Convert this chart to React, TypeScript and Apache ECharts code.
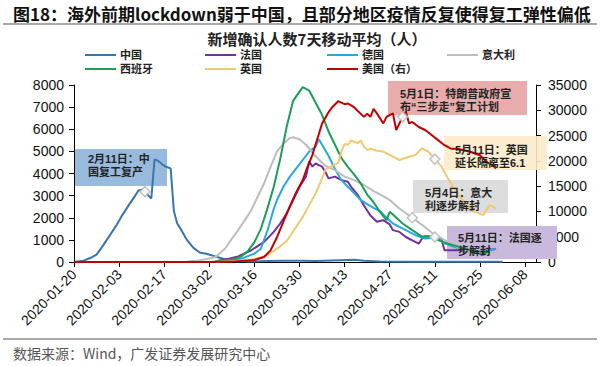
import React, { useEffect, useRef } from "react";
import * as echarts from "echarts";

// ---------- data ----------
const xTickLabels = [
  "2020-01-20", "2020-02-03", "2020-02-17", "2020-03-02", "2020-03-16", "2020-03-30",
  "2020-04-13", "2020-04-27", "2020-05-11", "2020-05-25", "2020-06-08",
];
const leftTicks = [0, 1000, 2000, 3000, 4000, 5000, 6000, 7000, 8000];
const rightTicks = [0, 5000, 10000, 15000, 20000, 25000, 30000, 35000];

const chinaData: [string, number][] = [
  ["2020-01-20", 0], ["2020-01-23", 60], ["2020-01-25", 180], ["2020-01-27", 330], ["2020-01-29", 740],
  ["2020-01-31", 1180], ["2020-02-02", 1620], ["2020-02-04", 2120], ["2020-02-06", 2570], ["2020-02-08", 3000],
  ["2020-02-09", 3230], ["2020-02-10", 3270], ["2020-02-11", 3180], ["2020-02-12", 3020], ["2020-02-13", 2870],
  ["2020-02-14", 4640], ["2020-02-15", 4580], ["2020-02-16", 4460], ["2020-02-17", 4350], ["2020-02-18", 4280],
  ["2020-02-19", 4230], ["2020-02-20", 2300], ["2020-02-21", 1750], ["2020-02-22", 1520], ["2020-02-24", 1010],
  ["2020-02-26", 650], ["2020-02-28", 430], ["2020-03-01", 370], ["2020-03-03", 290], ["2020-03-05", 200],
  ["2020-03-07", 110], ["2020-03-10", 40], ["2020-03-15", 20], ["2020-03-20", 40], ["2020-03-25", 60],
  ["2020-03-30", 60], ["2020-04-04", 50], ["2020-04-09", 70], ["2020-04-16", 100], ["2020-04-19", 60],
  ["2020-04-24", 20], ["2020-05-04", 10], ["2020-05-14", 10], ["2020-05-24", 10], ["2020-06-01", 10],
];
const franceData: [string, number][] = [
  ["2020-03-04", 30], ["2020-03-08", 150], ["2020-03-11", 250], ["2020-03-15", 530], ["2020-03-19", 910],
  ["2020-03-22", 1360], ["2020-03-24", 1740], ["2020-03-26", 2190], ["2020-03-28", 2800], ["2020-03-30", 3400],
  ["2020-04-01", 3860], ["2020-04-02", 4540], ["2020-04-03", 4310], ["2020-04-04", 4460], ["2020-04-05", 4380],
  ["2020-04-06", 4310], ["2020-04-07", 4080], ["2020-04-08", 3780], ["2020-04-10", 3860], ["2020-04-12", 3700],
  ["2020-04-14", 3630], ["2020-04-15", 3400], ["2020-04-17", 3050], ["2020-04-19", 2550], ["2020-04-21", 2100],
  ["2020-04-23", 1820], ["2020-04-25", 1890], ["2020-04-27", 1700], ["2020-04-28", 1440], ["2020-04-30", 1360],
  ["2020-05-02", 1130], ["2020-05-04", 980], ["2020-05-06", 830], ["2020-05-07", 1050], ["2020-05-08", 1160],
  ["2020-05-11", 1130], ["2020-05-13", 1060], ["2020-05-14", 530], ["2020-05-19", 530], ["2020-05-23", 450],
  ["2020-05-27", 500], ["2020-05-30", 600],
];
const germanyData: [string, number][] = [
  ["2020-03-04", 20], ["2020-03-07", 60], ["2020-03-12", 150], ["2020-03-16", 380], ["2020-03-18", 600],
  ["2020-03-19", 1000], ["2020-03-20", 1400], ["2020-03-21", 1900], ["2020-03-22", 2400], ["2020-03-23", 2800],
  ["2020-03-25", 3400], ["2020-03-27", 3860], ["2020-03-29", 4230], ["2020-03-31", 4610], ["2020-04-02", 4990],
  ["2020-04-04", 5220], ["2020-04-05", 5550], ["2020-04-06", 5300], ["2020-04-08", 4800], ["2020-04-10", 4200],
  ["2020-04-12", 3700], ["2020-04-14", 3400], ["2020-04-16", 3100], ["2020-04-18", 2800], ["2020-04-20", 2620],
  ["2020-04-22", 2450], ["2020-04-24", 2300], ["2020-04-26", 2000], ["2020-04-28", 1740], ["2020-04-30", 1590],
  ["2020-05-02", 1440], ["2020-05-05", 1210], ["2020-05-08", 1060], ["2020-05-11", 1100], ["2020-05-14", 850],
  ["2020-05-17", 690], ["2020-05-20", 540], ["2020-05-23", 460], ["2020-05-26", 480], ["2020-05-29", 560],
  ["2020-05-30", 600],
];
const italyData: [string, number][] = [
  ["2020-02-24", 20], ["2020-02-27", 60], ["2020-03-01", 130], ["2020-03-04", 230], ["2020-03-07", 620],
  ["2020-03-09", 1050], ["2020-03-11", 1450], ["2020-03-13", 1880], ["2020-03-15", 2340], ["2020-03-17", 2950],
  ["2020-03-19", 3550], ["2020-03-21", 4300], ["2020-03-23", 5000], ["2020-03-25", 5350], ["2020-03-27", 5600],
  ["2020-03-28", 5640], ["2020-03-30", 5550], ["2020-04-01", 5300], ["2020-04-04", 4780], ["2020-04-07", 4350],
  ["2020-04-10", 4150], ["2020-04-13", 3860], ["2020-04-16", 3700], ["2020-04-19", 3480], ["2020-04-22", 3200],
  ["2020-04-25", 2980], ["2020-04-27", 2800], ["2020-04-30", 2420], ["2020-05-04", 2000], ["2020-05-07", 1680],
  ["2020-05-10", 1330], ["2020-05-13", 1080], ["2020-05-16", 820], ["2020-05-19", 600], ["2020-05-22", 450],
  ["2020-05-25", 390], ["2020-05-28", 380], ["2020-05-31", 430],
];
const spainData: [string, number][] = [
  ["2020-03-04", 30], ["2020-03-07", 80], ["2020-03-10", 140], ["2020-03-12", 260], ["2020-03-14", 500],
  ["2020-03-16", 900], ["2020-03-18", 1500], ["2020-03-20", 2400], ["2020-03-22", 3400], ["2020-03-24", 4650],
  ["2020-03-26", 6100], ["2020-03-28", 7280], ["2020-03-30", 7700], ["2020-03-31", 7900], ["2020-04-02", 7750],
  ["2020-04-04", 7200], ["2020-04-06", 6650], ["2020-04-08", 5900], ["2020-04-10", 5300], ["2020-04-12", 4700],
  ["2020-04-14", 4300], ["2020-04-16", 3950], ["2020-04-18", 3550], ["2020-04-20", 3050], ["2020-04-22", 2700],
  ["2020-04-24", 2250], ["2020-04-26", 1890], ["2020-04-27", 2270], ["2020-04-28", 2150], ["2020-05-01", 1740],
  ["2020-05-04", 1440], ["2020-05-07", 1150], ["2020-05-09", 1160], ["2020-05-12", 990], ["2020-05-15", 830],
  ["2020-05-19", 670], ["2020-05-22", 520], ["2020-05-25", 380], ["2020-05-28", 450],
];
const ukData: [string, number][] = [
  ["2020-03-04", 10], ["2020-03-10", 40], ["2020-03-15", 100], ["2020-03-20", 300], ["2020-03-23", 600],
  ["2020-03-26", 940], ["2020-03-28", 1380], ["2020-03-31", 2040], ["2020-04-02", 2570], ["2020-04-04", 3100],
  ["2020-04-06", 3780], ["2020-04-07", 4160], ["2020-04-09", 4330], ["2020-04-11", 4480], ["2020-04-12", 4990],
  ["2020-04-13", 5340], ["2020-04-14", 5300], ["2020-04-15", 5490], ["2020-04-17", 5370], ["2020-04-18", 5490],
  ["2020-04-19", 5220], ["2020-04-20", 5070], ["2020-04-21", 5120], ["2020-04-23", 5030], ["2020-04-25", 4990],
  ["2020-04-27", 4840], ["2020-04-30", 4610], ["2020-05-03", 4760], ["2020-05-05", 4840], ["2020-05-07", 5140],
  ["2020-05-09", 4990], ["2020-05-11", 4650], ["2020-05-13", 4330], ["2020-05-15", 3800], ["2020-05-17", 3300],
  ["2020-05-19", 2920], ["2020-05-21", 2560], ["2020-05-23", 2300], ["2020-05-26", 2120], ["2020-05-28", 2570],
  ["2020-05-30", 2420],
];
const usData: [string, number][] = [
  ["2020-01-20", 0], ["2020-02-29", 0], ["2020-03-05", 50], ["2020-03-10", 100], ["2020-03-13", 250],
  ["2020-03-16", 400], ["2020-03-18", 800], ["2020-03-19", 1000], ["2020-03-21", 2300], ["2020-03-23", 4900],
  ["2020-03-25", 8000], ["2020-03-27", 11000], ["2020-03-29", 13800], ["2020-03-31", 16200], ["2020-04-01", 18000],
  ["2020-04-03", 21200], ["2020-04-05", 25300], ["2020-04-06", 27400], ["2020-04-08", 29600], ["2020-04-09", 30500],
  ["2020-04-11", 31800], ["2020-04-13", 31200], ["2020-04-14", 31350], ["2020-04-16", 30560], ["2020-04-17", 29900],
  ["2020-04-19", 28700], ["2020-04-20", 29300], ["2020-04-21", 28700], ["2020-04-22", 30300], ["2020-04-23", 29400],
  ["2020-04-24", 28400], ["2020-04-25", 27400], ["2020-04-26", 28700], ["2020-04-28", 29400], ["2020-04-29", 26100],
  ["2020-05-01", 28700], ["2020-05-02", 29700], ["2020-05-03", 27400], ["2020-05-04", 27700], ["2020-05-06", 26700],
  ["2020-05-08", 26100], ["2020-05-10", 25100], ["2020-05-12", 24100], ["2020-05-14", 23100], ["2020-05-16", 22400],
  ["2020-05-18", 22400], ["2020-05-20", 22100], ["2020-05-22", 21800], ["2020-05-25", 21100], ["2020-05-27", 19800],
  ["2020-05-29", 19100], ["2020-05-30", 18500],
];

// event markers: [series name, date]
const markerEvents: [string, string][] = [
  ["中国", "2020-02-11"],
  ["美国（右）", "2020-05-01"],
  ["意大利", "2020-05-04"],
  ["英国", "2020-05-11"],
  ["法国", "2020-05-11"],
];

const notes: string[] = [
  "2月11日：中\n国复工复产",
  "5月1日：特朗普政府宣\n布“三步走”复工计划",
  "5月11日：英国\n延长隔离至6.1",
  "5月4日：意大\n利逐步解封",
  "5月11日：法国逐\n步解封",
];

// ---------- helpers ----------
const START = Date.UTC(2020, 0, 20);
const toDay = (s: string) => {
  const [y, m, d] = s.split("-").map(Number);
  return Math.round((Date.UTC(y, m - 1, d) - START) / 86400000);
};
const conv = (arr: [string, number][]) => arr.map(([d, v]) => [toDay(d), v]);

const SANS = "'Liberation Sans', Arial, sans-serif";
const CJK = "'Noto Sans CJK SC', sans-serif";
const MIX = "'Liberation Sans', 'Noto Sans CJK SC', sans-serif";

const seriesDefs = [
  { name: "中国", data: chinaData, color: "#3A75B0", y: 0 },
  { name: "法国", data: franceData, color: "#7030A0", y: 0 },
  { name: "德国", data: germanyData, color: "#26A9DF", y: 0 },
  { name: "意大利", data: italyData, color: "#BDBDBD", y: 0 },
  { name: "西班牙", data: spainData, color: "#1B9E55", y: 0 },
  { name: "英国", data: ukData, color: "#F0C870", y: 0 },
  { name: "美国（右）", data: usData, color: "#C00000", y: 1 },
];

const legendPos: Record<string, [number, number]> = {
  "中国": [85, 49], "法国": [205, 49], "德国": [327, 49], "意大利": [447, 49],
  "西班牙": [85, 63], "英国": [205, 63], "美国（右）": [327, 63],
};

const noteBoxes = [
  { x: 75, y: 149, w: 92, h: 37, fill: "#8DB4D9", tx: 88, ty: 152 },
  { x: 388, y: 81, w: 139, h: 34, fill: "#E6A3A3", tx: 400, ty: 87 },
  { x: 444, y: 136, w: 103, h: 34, fill: "#FCEBCB", tx: 455, ty: 143 },
  { x: 413, y: 180, w: 95, h: 33, fill: "#D9D9D9", tx: 425, ty: 186 },
  { x: 447, y: 226, w: 110, h: 33, fill: "#C9BADD", tx: 458, ty: 231 },
];

export default function App() {
  const ref = useRef<HTMLDivElement>(null);
  useEffect(() => {
    if (!ref.current) return;
    const chart = echarts.init(ref.current, null, { renderer: "svg" });

    const lineSeries = seriesDefs.map((s) => ({
      name: s.name,
      type: "line",
      yAxisIndex: s.y,
      data: conv(s.data),
      showSymbol: false,
      smooth: false,
      lineStyle: { width: 2, color: s.color },
      itemStyle: { color: s.color },
      z: 3,
    }));

    const markerSeries = markerEvents.map(([name, date]) => {
      const def = seriesDefs.find((s) => s.name === name)!;
      const found = def.data.find(([d]) => d === date)!;
      return {
        type: "scatter",
        yAxisIndex: def.y,
        data: [[toDay(date), found[1]]],
        symbol: "diamond",
        symbolSize: 10,
        itemStyle: { color: "#ffffff", borderColor: "#bbbbbb", borderWidth: 1.5, opacity: 0.9 },
        z: 5,
        silent: true,
      };
    });

    const graphics: any[] = [
      {
        type: "text", x: 13, y: 13, z: 100,
        style: { text: "图18：海外前期lockdown弱于中国，且部分地区疫情反复使得复工弹性偏低", fontFamily: CJK, fontSize: 17, fontWeight: "bold", fill: "#111", verticalAlign: "middle" },
      },
      { type: "line", z: 100, shape: { x1: 3, y1: 24, x2: 597, y2: 24 }, style: { stroke: "#8c8c8c", lineWidth: 1.5 } },
      { type: "line", z: 100, shape: { x1: 3, y1: 339, x2: 597, y2: 339 }, style: { stroke: "#8c8c8c", lineWidth: 1.5 } },
      {
        type: "text", x: 13, y: 353, z: 100,
        style: { text: "数据来源：Wind，广发证券发展研究中心", fontFamily: CJK, fontSize: 14, fill: "#555", verticalAlign: "middle" },
      },
      {
        type: "text", x: 317, y: 38, z: 100,
        style: { text: "新增确认人数7天移动平均（人）", fontFamily: CJK, fontSize: 15, fontWeight: "bold", fill: "#222", align: "center", verticalAlign: "middle" },
      },
    ];
    noteBoxes.forEach((b, i) => {
      graphics.push({ type: "rect", z: 1, shape: { x: b.x, y: b.y, width: b.w, height: b.h }, style: { fill: b.fill, opacity: i === 4 ? 1 : 0.9 } });
      graphics.push({
        type: "text", x: b.tx, y: b.ty, z: 100,
        style: { text: notes[i], fontFamily: MIX, fontSize: 11, fontWeight: "bold", fill: "#222", lineHeight: 13 },
      });
    });

    chart.setOption({
      animation: false,
      backgroundColor: "#ffffff",
      grid: { left: 74, right: 64, top: 85, bottom: 104 },
      legend: seriesDefs.map((s) => ({
        data: [s.name],
        left: legendPos[s.name][0],
        top: legendPos[s.name][1],
        padding: 0,
        icon: "rect",
        itemWidth: 31,
        itemHeight: 2,
        itemGap: 4,
        selectedMode: false,
        textStyle: { fontFamily: MIX, fontSize: 11, fontWeight: "bold", color: "#222", lineHeight: 12, padding: [0, 0, 0, -1] },
      })),
      xAxis: {
        type: "value",
        min: 0,
        max: 143.4,
        interval: 14,
        splitLine: { show: false },
        axisLine: { show: true, lineStyle: { color: "#000", width: 1 } },
        axisTick: { show: true, length: 5, lineStyle: { color: "#000" } },
        axisLabel: {
          rotate: 45,
          margin: 10,
          fontFamily: SANS,
          fontSize: 14,
          color: "#111",
          showMaxLabel: false,
          formatter: (v: number) => (v % 14 === 0 ? xTickLabels[v / 14] ?? "" : ""),
        },
      },
      yAxis: [
        {
          type: "value",
          min: leftTicks[0],
          max: leftTicks[leftTicks.length - 1],
          interval: leftTicks[1] - leftTicks[0],
          splitLine: { show: false },
          axisLine: { show: true, lineStyle: { color: "#000" } },
          axisTick: { show: true, length: 5, lineStyle: { color: "#000" } },
          axisLabel: { fontFamily: SANS, fontSize: 14, color: "#111", margin: 10, formatter: (v: number) => String(v) },
        },
        {
          type: "value",
          position: "right",
          min: rightTicks[0],
          max: rightTicks[rightTicks.length - 1],
          interval: rightTicks[1] - rightTicks[0],
          splitLine: { show: false },
          axisLine: { show: true, lineStyle: { color: "#000" } },
          axisTick: { show: true, length: 5, lineStyle: { color: "#000" } },
          axisLabel: { fontFamily: SANS, fontSize: 14, color: "#111", margin: 12, formatter: (v: number) => String(v) },
        },
      ],
      series: [...lineSeries, ...markerSeries],
      graphic: graphics,
    });
    return () => chart.dispose();
  }, []);
  return (
    <div
      ref={ref}
      style={{ position: "fixed", left: 0, top: 0, width: 600, height: 366, background: "#fff" }}
    />
  );
}
